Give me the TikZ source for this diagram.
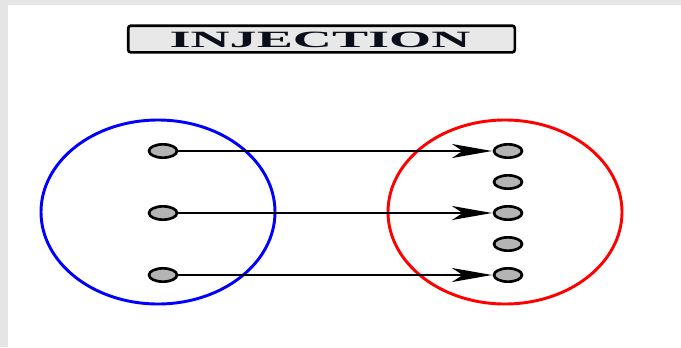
\documentclass[tikz,border=0pt]{standalone}
\usepackage{fontspec}
\setmainfont{Liberation Serif}
\usetikzlibrary{arrows.meta,shapes.geometric}
\definecolor{frame}{HTML}{E5E5E5}
\definecolor{dotfill}{HTML}{B4B4B4}
\definecolor{titlefill}{HTML}{E8E8E8}
\definecolor{titleink}{HTML}{0A0E1A}
\begin{document}
\begin{tikzpicture}[x=0.75pt,y=-0.75pt,
  pt/.style={draw=black,fill=dotfill,line width=2pt,shape=ellipse,minimum width=21pt,minimum height=10pt,inner sep=0pt},
  mapsto/.style={line width=1.4pt,-{Stealth[length=30pt,width=10.5pt,inset=8pt]},shorten >=0.5pt},
  setline/.style={line width=2.2pt}]
  % page frame
  \fill[frame] (0,0) rectangle (681,347);
  \fill[white] (8,5) rectangle (681,347);
  \useasboundingbox (0,0) rectangle (681,347);

  % title box
  \node[draw=black,fill=titlefill,line width=2pt,rounded corners=2pt,
        minimum width=290pt,minimum height=20pt,inner sep=0pt] (title) at (321.5,39) {};
  \node[text=titleink,font=\bfseries\fontsize{17.5}{18}\selectfont,xscale=2.32,inner sep=0pt] (titletext) at (320,40) {INJECTION};

  % domain and codomain
  \draw[setline,blue] (158,212) ellipse [x radius=117,y radius=92];
  \draw[setline,red] (505,212) ellipse [x radius=117,y radius=92];

  % elements
  \node[pt] (a1) at (163,151) {};
  \node[pt] (a2) at (163,213) {};
  \node[pt] (a3) at (163,275) {};
  \node[pt] (b1) at (508,151) {};
  \node[pt] (b2) at (508,182) {};
  \node[pt] (b3) at (508,213) {};
  \node[pt] (b4) at (508,244) {};
  \node[pt] (b5) at (508,275) {};

  % mapping
  \draw[mapsto] (a1) -- (b1);
  \draw[mapsto] (a2) -- (b3);
  \draw[mapsto] (a3) -- (b5);
\end{tikzpicture}
\end{document}
